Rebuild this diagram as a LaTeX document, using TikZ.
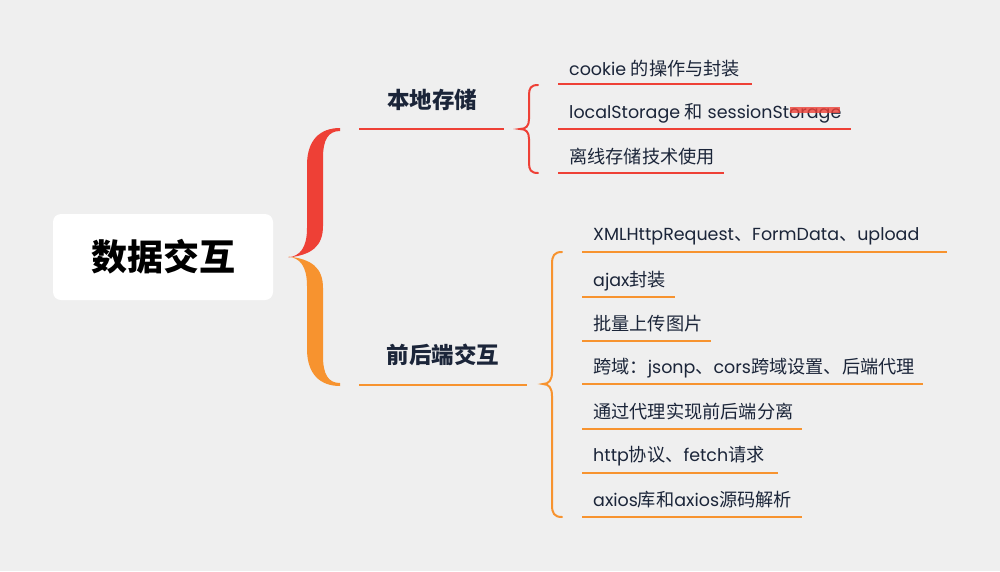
\documentclass[tikz,border=0pt]{standalone}
\usepackage{fontspec}
\newfontfamily\lat[Scale=0.96]{Poppins}
\newfontfamily\cjk{Noto Sans CJK SC}
\definecolor{bg}{HTML}{EFEFEF}
\definecolor{myred}{HTML}{EE4036}
\definecolor{myorange}{HTML}{F7932F}
\definecolor{ink}{HTML}{1B2539}
\tikzset{
  rootbox/.style={fill=white, rounded corners=8pt, minimum width=220pt, minimum height=86pt, inner sep=0pt, text=black, font=\cjk\bfseries\fontsize{36}{40}\selectfont},
  branch/.style={inner sep=0pt, text=ink, font=\cjk\bfseries\fontsize{22.5}{26}\selectfont},
  leaf/.style={anchor=west, inner sep=0pt, text=ink, font=\fontsize{18.2}{21}\selectfont},
  redline/.style={draw=myred, line width=2.5pt},
  orline/.style={draw=myorange, line width=2.5pt},
  redbrace/.style={draw=myred, line width=2pt, line cap=round},
  orbrace/.style={draw=myorange, line width=2pt, line cap=round}
}
\begin{document}
\begin{tikzpicture}[x=1pt,y=-1pt]
\fill[bg] (0,0) rectangle (1000,571);
\useasboundingbox (0,0) rectangle (1000,571);

% root
\node[rootbox] (root) at (163,257) {数据交互};

% big brace
\fill[myred] (340,128) .. controls (320,128) and (307,140) .. (307,165) -- (307,228) .. controls (307,248) and (300,256) .. (288,257.5) .. controls (312,255) and (323,246) .. (323,226) -- (323,158) .. controls (323,140) and (328,131) .. (340,131) -- cycle;
\fill[myorange] (340,386) .. controls (320,386) and (307,374) .. (307,349) -- (307,286) .. controls (307,266) and (300,258) .. (288,256.5) .. controls (312,259) and (323,268) .. (323,288) -- (323,356) .. controls (323,374) and (328,383) .. (340,383) -- cycle;

% branches
\node[branch] (b1) at (432,100) {本地存储};
\node[branch] (b2) at (443,355) {前后端交互};
\coordinate (b1a) at (359,129); \coordinate (b1b) at (504,129);
\coordinate (b2a) at (359,385); \coordinate (b2b) at (527,385);
\draw[redline] (b1a) -- (b1b);
\draw[orline] (b2a) -- (b2b);

% small braces
\draw[redbrace] (538,85) .. controls (531,85) and (529,88) .. (529,95) -- (529,119) .. controls (529,126) and (526,129) .. (520,129) .. controls (526,129) and (529,132) .. (529,139) -- (529,163) .. controls (529,170) and (531,173) .. (538,173);
\draw[orbrace] (562,252) .. controls (554,252) and (552,256) .. (552,264) -- (552,372) .. controls (552,380) and (549,384) .. (543,384) .. controls (549,384) and (552,388) .. (552,396) -- (552,505) .. controls (552,513) and (554,517) .. (562,517);

% top leaves
\node[leaf] (l1) at (569,69) {{\lat cookie }{\cjk 的操作与封装}};
\node[leaf] (l2) at (569,113) {{\lat localStorage }{\cjk 和}{\lat{} sessionStorage}};
\node[leaf] (l3) at (569,157) {{\cjk 离线存储技术使用}};
\coordinate (u1a) at (558,84); \coordinate (u1b) at (752,84);
\coordinate (u2a) at (558,129); \coordinate (u2b) at (851,129);
\coordinate (u3a) at (558,173); \coordinate (u3b) at (724,173);
\draw[redline] (u1a) -- (u1b);
\draw[redline] (u2a) -- (u2b);
\draw[redline] (u3a) -- (u3b);
\coordinate (hla) at (790,107); \coordinate (hlb) at (840,113);
\fill[myred, opacity=0.8] (hla) rectangle (hlb);

% bottom leaves
\node[leaf] (m1) at (593,236) {{\lat XMLHttpRequest}{\cjk 、}{\lat FormData}{\cjk 、}{\lat upload}};
\node[leaf] (m2) at (593,281) {{\lat ajax}{\cjk 封装}};
\node[leaf] (m3) at (593,324) {{\cjk 批量上传图片}};
\node[leaf] (m4) at (593,368) {{\cjk 跨域：}{\lat jsonp}{\cjk 、}{\lat cors}{\cjk 跨域设置、后端代理}};
\node[leaf] (m5) at (593,412) {{\cjk 通过代理实现前后端分离}};
\node[leaf] (m6) at (593,456) {{\lat http}{\cjk 协议、}{\lat fetch}{\cjk 请求}};
\node[leaf] (m7) at (593,500) {{\lat axios}{\cjk 库和}{\lat axios}{\cjk 源码解析}};
\coordinate (v1a) at (582,252); \coordinate (v1b) at (947,252);
\coordinate (v2a) at (582,297); \coordinate (v2b) at (675,297);
\coordinate (v3a) at (582,341); \coordinate (v3b) at (711,341);
\coordinate (v4a) at (582,384); \coordinate (v4b) at (923,384);
\coordinate (v5a) at (582,429); \coordinate (v5b) at (802,429);
\coordinate (v6a) at (582,473); \coordinate (v6b) at (778,473);
\coordinate (v7a) at (582,517); \coordinate (v7b) at (802,517);
\foreach \i in {1,...,7} { \draw[orline] (v\i a) -- (v\i b); }
\end{tikzpicture}
\end{document}
